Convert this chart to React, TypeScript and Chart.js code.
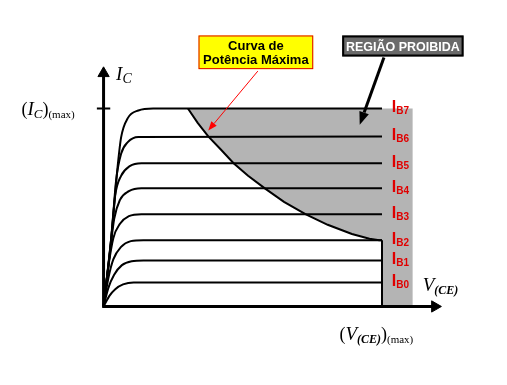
import React, { useEffect, useRef } from "react";
import { Chart, registerables } from "chart.js";

Chart.register(...registerables);

type P = { x: number; y: number };

// V(CE) axis: 0 .. V_MAX ; I(C) axis: 0 .. IC_MAX (arbitrary units)
const V_MAX = 10;
const IC_MAX = 8;

const IB_NAMES = ["B0", "B1", "B2", "B3", "B4", "B5", "B6", "B7"];
const IB_LEVELS = [0.97, 1.86, 2.68, 3.73, 4.78, 5.79, 6.87, 8.0];

const CURVE_IB0: P[] = [
  { x: 0, y: 0 }, { x: 0.21, y: 0.43 }, { x: 0.42, y: 0.7 }, { x: 0.7, y: 0.89 },
  { x: 1.08, y: 0.97 }, { x: 10, y: 0.97 },
];
const CURVE_IB1: P[] = [
  { x: 0, y: 0 }, { x: 0.17, y: 0.74 }, { x: 0.38, y: 1.28 }, { x: 0.66, y: 1.67 },
  { x: 1.01, y: 1.83 }, { x: 1.43, y: 1.86 }, { x: 10, y: 1.86 },
];
const CURVE_IB2: P[] = [
  { x: 0, y: 0 }, { x: 0.17, y: 1.13 }, { x: 0.35, y: 1.9 }, { x: 0.63, y: 2.41 },
  { x: 0.98, y: 2.64 }, { x: 1.43, y: 2.68 }, { x: 10, y: 2.68 },
];
const CURVE_IB3: P[] = [
  { x: 0, y: 0 }, { x: 0.17, y: 1.59 }, { x: 0.35, y: 2.76 }, { x: 0.59, y: 3.34 },
  { x: 0.91, y: 3.65 }, { x: 1.36, y: 3.73 }, { x: 10, y: 3.73 },
];
const CURVE_IB4: P[] = [
  { x: 0, y: 0 }, { x: 0.21, y: 1.98 }, { x: 0.38, y: 3.53 }, { x: 0.59, y: 4.31 },
  { x: 0.91, y: 4.66 }, { x: 1.36, y: 4.78 }, { x: 10, y: 4.78 },
];
const CURVE_IB5: P[] = [
  { x: 0, y: 0 }, { x: 0.24, y: 2.37 }, { x: 0.42, y: 4.5 }, { x: 0.63, y: 5.28 },
  { x: 0.94, y: 5.67 }, { x: 1.36, y: 5.79 }, { x: 10, y: 5.79 },
];
const CURVE_IB6: P[] = [
  { x: 0, y: 0 }, { x: 0.28, y: 2.76 }, { x: 0.45, y: 5.09 }, { x: 0.63, y: 6.17 },
  { x: 0.87, y: 6.64 }, { x: 1.25, y: 6.85 }, { x: 10, y: 6.87 },
];
const CURVE_IB7: P[] = [
  { x: 0, y: 0 }, { x: 0.31, y: 3.15 }, { x: 0.49, y: 5.48 }, { x: 0.63, y: 6.83 },
  { x: 0.87, y: 7.61 }, { x: 1.25, y: 7.92 }, { x: 1.78, y: 8.0 }, { x: 10, y: 8.0 },
];

// Maximum power curve
const POWER_CURVE: P[] = [
  { x: 3.03, y: 8.0 }, { x: 3.38, y: 7.42 }, { x: 3.76, y: 6.87 }, { x: 4.22, y: 6.33 },
  { x: 4.67, y: 5.79 }, { x: 5.19, y: 5.28 }, { x: 5.78, y: 4.78 }, { x: 6.48, y: 4.23 },
  { x: 7.25, y: 3.73 }, { x: 8.05, y: 3.3 }, { x: 8.92, y: 2.93 }, { x: 9.55, y: 2.74 },
  { x: 9.9, y: 2.68 }, { x: 10, y: 2.68 },
];

const FORBIDDEN_RIGHT = 11.1;

const X_MIN = -3.45;
const X_MAX = 14.22;
const Y_MIN = -2.87;
const Y_MAX = 12.08;

const SERIF = '"Liberation Serif", "Times New Roman", serif';
const SANS = '"Liberation Sans", Arial, sans-serif';

type Run = [string, string, number];

function drawRuns(ctx: CanvasRenderingContext2D, x: number, y: number, runs: Run[], color: string) {
  ctx.fillStyle = color;
  ctx.textBaseline = "alphabetic";
  ctx.textAlign = "left";
  let cx = x;
  for (const [t, f, dy] of runs) {
    ctx.font = f;
    ctx.fillText(t, cx, y + dy);
    cx += ctx.measureText(t).width;
  }
}

function drawArrow(
  ctx: CanvasRenderingContext2D, x1: number, y1: number, x2: number, y2: number,
  color: string, width: number, headLen: number, headHalf: number,
) {
  const a = Math.atan2(y2 - y1, x2 - x1);
  const bx = x2 - Math.cos(a) * headLen;
  const by = y2 - Math.sin(a) * headLen;
  ctx.strokeStyle = color;
  ctx.fillStyle = color;
  ctx.lineWidth = width;
  ctx.beginPath();
  ctx.moveTo(x1, y1);
  ctx.lineTo(bx, by);
  ctx.stroke();
  ctx.beginPath();
  ctx.moveTo(x2, y2);
  ctx.lineTo(bx + Math.sin(a) * headHalf, by - Math.cos(a) * headHalf);
  ctx.lineTo(bx - Math.sin(a) * headHalf, by + Math.cos(a) * headHalf);
  ctx.closePath();
  ctx.fill();
}

const annotationPlugin = {
  id: "annotations",
  afterDatasetsDraw(chart: any) {
    const ctx: CanvasRenderingContext2D = chart.ctx;
    const xs = chart.scales.x;
    const ys = chart.scales.y;
    const px = (v: number) => xs.getPixelForValue(v);
    const py = (v: number) => ys.getPixelForValue(v);
    ctx.save();

    // Axis labels
    drawRuns(ctx, px(0.45), py(9.17), [
      ["I", `italic 19px ${SERIF}`, 0],
      ["C", `italic 14px ${SERIF}`, 3],
    ], "#000");
    drawRuns(ctx, px(-2.95), py(IC_MAX) + 7, [
      ["(", `18px ${SERIF}`, 0],
      ["I", `italic 19px ${SERIF}`, 0],
      ["C", `italic 13px ${SERIF}`, 3],
      [")", `18px ${SERIF}`, 0],
      ["(max)", `11px ${SERIF}`, 3],
    ], "#000");
    drawRuns(ctx, px(11.46), py(0.62), [
      ["V", `italic 19px ${SERIF}`, 0],
      ["(CE)", `italic bold 12px ${SERIF}`, 3],
    ], "#000");
    drawRuns(ctx, px(8.47), py(-1.36), [
      ["(", `18px ${SERIF}`, 0],
      ["V", `italic 19px ${SERIF}`, 0],
      ["(CE)", `italic bold 12px ${SERIF}`, 3],
      [")", `18px ${SERIF}`, 0],
      ["(max)", `11px ${SERIF}`, 3],
    ], "#000");

    // IB labels
    IB_LEVELS.forEach((lv, k) => {
      drawRuns(ctx, px(10.35), py(lv) + 4, [
        ["I", `bold 16px ${SANS}`, 0],
        [IB_NAMES[k], `bold 10px ${SANS}`, 2],
      ], "#e00000");
    });

    // Yellow box
    const yx1 = px(3.41), yx2 = px(7.53), yy1 = py(10.95), yy2 = py(9.59);
    ctx.fillStyle = "#ffff00";
    ctx.fillRect(yx1, yy1, yx2 - yx1, yy2 - yy1);
    ctx.strokeStyle = "#e00000";
    ctx.lineWidth = 1;
    ctx.strokeRect(yx1 + 0.5, yy1 + 0.5, yx2 - yx1 - 1, yy2 - yy1 - 1);
    ctx.fillStyle = "#000";
    ctx.font = `bold 13px ${SANS}`;
    ctx.textAlign = "center";
    ctx.textBaseline = "alphabetic";
    ctx.fillText("Curva de", (yx1 + yx2) / 2, yy1 + 15);
    ctx.fillText("Potência Máxima", (yx1 + yx2) / 2, yy1 + 29);

    // Gray box
    const gx1 = px(8.57), gx2 = px(12.93), gy1 = py(10.95), gy2 = py(10.1);
    ctx.fillStyle = "#6a6a6a";
    ctx.fillRect(gx1, gy1, gx2 - gx1, gy2 - gy1);
    ctx.strokeStyle = "#000";
    ctx.lineWidth = 2;
    ctx.strokeRect(gx1 + 1, gy1 + 1, gx2 - gx1 - 2, gy2 - gy1 - 2);
    ctx.fillStyle = "#fff";
    ctx.font = `bold 12.5px ${SANS}`;
    ctx.textAlign = "center";
    ctx.fillText("REGIÃO PROIBIDA", (gx1 + gx2) / 2, gy1 + 16);

    // Pointer arrows
    drawArrow(ctx, px(5.54), py(9.51), px(3.76), py(7.11), "#ff0000", 1, 9, 3.5);
    drawArrow(ctx, px(10.07), py(10.06), px(9.2), py(7.34), "#000", 3, 13, 5);

    ctx.restore();
  },
};

const curveDs = (data: P[]) => ({
  data,
  borderColor: "#000",
  borderWidth: 2,
  pointRadius: 0,
  cubicInterpolationMode: "monotone" as const,
  fill: false,
  order: 2,
});

export default function App() {
  const ref = useRef<HTMLCanvasElement | null>(null);
  useEffect(() => {
    if (!ref.current) return;
    const forbidden: P[] = [
      ...POWER_CURVE.slice(0, 1),
      { x: FORBIDDEN_RIGHT, y: IC_MAX },
      { x: FORBIDDEN_RIGHT, y: 0.04 },
      { x: V_MAX, y: 0.04 },
      ...POWER_CURVE.slice().reverse(),
    ];
    const chart = new Chart(ref.current, {
      type: "line",
      data: {
        datasets: [
          {
            data: forbidden,
            borderWidth: 0,
            borderColor: "rgba(0,0,0,0)",
            backgroundColor: "#b4b4b4",
            pointRadius: 0,
            fill: "shape",
            tension: 0,
            order: 10,
          } as any,
          curveDs(CURVE_IB0),
          curveDs(CURVE_IB1),
          curveDs(CURVE_IB2),
          curveDs(CURVE_IB3),
          curveDs(CURVE_IB4),
          curveDs(CURVE_IB5),
          curveDs(CURVE_IB6),
          curveDs(CURVE_IB7),
          {
            data: POWER_CURVE,
            borderColor: "#000",
            borderWidth: 2,
            pointRadius: 0,
            tension: 0,
            fill: false,
            order: 1,
          },
          {
            data: [{ x: V_MAX, y: 0 }, { x: V_MAX, y: IB_LEVELS[2] }],
            borderColor: "#000",
            borderWidth: 2,
            pointRadius: 0,
            fill: false,
            order: 1,
          },
          {
            data: [{ x: -0.24, y: IC_MAX }, { x: 0.24, y: IC_MAX }],
            borderColor: "#000",
            borderWidth: 2,
            pointRadius: 0,
            fill: false,
            order: 0,
          },
          {
            data: [{ x: 0, y: 0 }, { x: 0, y: 9.42 }],
            borderColor: "#000",
            backgroundColor: "#000",
            borderWidth: 3,
            pointRadius: [0, 6.5],
            pointBorderWidth: 1,
            pointStyle: "triangle",
            pointRotation: 0,
            fill: false,
            order: 0,
          } as any,
          {
            data: [{ x: -0.05, y: 0 }, { x: 11.9, y: 0 }],
            borderColor: "#000",
            backgroundColor: "#000",
            borderWidth: 3,
            pointRadius: [0, 6.5],
            pointBorderWidth: 1,
            pointStyle: "triangle",
            pointRotation: 90,
            fill: false,
            order: 0,
          } as any,
        ],
      },
      options: {
        responsive: false,
        animation: false,
        devicePixelRatio: 1,
        layout: { padding: 0 },
        plugins: { legend: { display: false }, tooltip: { enabled: false } },
        events: [],
        scales: {
          x: { type: "linear", min: X_MIN, max: X_MAX, display: false },
          y: { type: "linear", min: Y_MIN, max: Y_MAX, display: false },
        },
      },
      plugins: [annotationPlugin],
    });
    return () => chart.destroy();
  }, []);
  return (
    <div style={{ position: "absolute", left: 0, top: 0, width: 507, height: 385, background: "#fff" }}>
      <canvas ref={ref} width={507} height={385} />
    </div>
  );
}
